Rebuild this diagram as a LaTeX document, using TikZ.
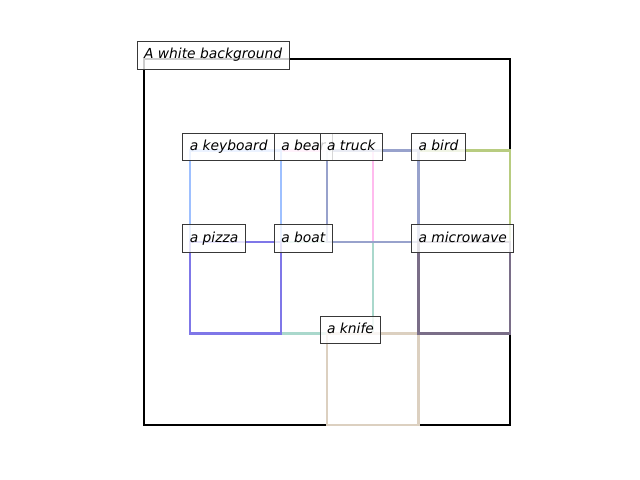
\documentclass[tikz,border=0pt]{standalone}
\usepackage{fontspec}
\setmainfont{DejaVu Sans}
\definecolor{keyboardblue}{HTML}{9EC0FF}
\definecolor{bearpink}{HTML}{FFBBEE}
\definecolor{truckgray}{HTML}{98A2CC}
\definecolor{birdgreen}{HTML}{B8CC80}
\definecolor{pizzapurple}{HTML}{7F77E8}
\definecolor{boatteal}{HTML}{AAD8CC}
\definecolor{wavegray}{HTML}{7A6E88}
\definecolor{knifetan}{HTML}{DCD0C0}
\begin{document}
\begin{tikzpicture}[x=0.4575in,y=-0.4575in,
    bbox/.style={line width=1.5pt},
    tag/.style={draw=black!78,line width=0.8pt,fill=white,fill opacity=0.8,
      text opacity=1,anchor=text,inner xsep=5pt,inner ysep=5pt,
      text height=7.5pt,text depth=2.5pt,font=\itshape\fontsize{10}{12}\selectfont}]
    \useasboundingbox (-3.1475,-1.2896) rectangle (10.8415,9.2022);

    % background box
    \draw[bbox,black] (0,0) rectangle (8,8);

    % object boxes
    \draw[bbox,bearpink] (3,2) rectangle (5,4);
    \draw[bbox,birdgreen] (6,2) rectangle (8,4);
    \draw[bbox,boatteal] (3,4) rectangle (5,6);
    \draw[bbox,truckgray] (4,2) rectangle (6,4);
    \draw[bbox,keyboardblue] (1,2) rectangle (3,4);
    \draw[bbox,pizzapurple] (1,4) rectangle (3,6);
    \draw[bbox,knifetan] (4,6) rectangle (6,8);
    \draw[bbox,wavegray] (6,4) rectangle (8,6);

    % labels at the top left corners
    \node[tag] (bg) at (0,0) {A white background};
    \node[tag] (keyboard) at (1,2) {a keyboard};
    \node[tag] (bear) at (3,2) {a bear};
    \node[tag] (truck) at (4,2) {a truck};
    \node[tag] (bird) at (6,2) {a bird};
    \node[tag] (pizza) at (1,4) {a pizza};
    \node[tag] (boat) at (3,4) {a boat};
    \node[tag] (microwave) at (6,4) {a microwave};
    \node[tag] (knife) at (4,6) {a knife};
\end{tikzpicture}
\end{document}
